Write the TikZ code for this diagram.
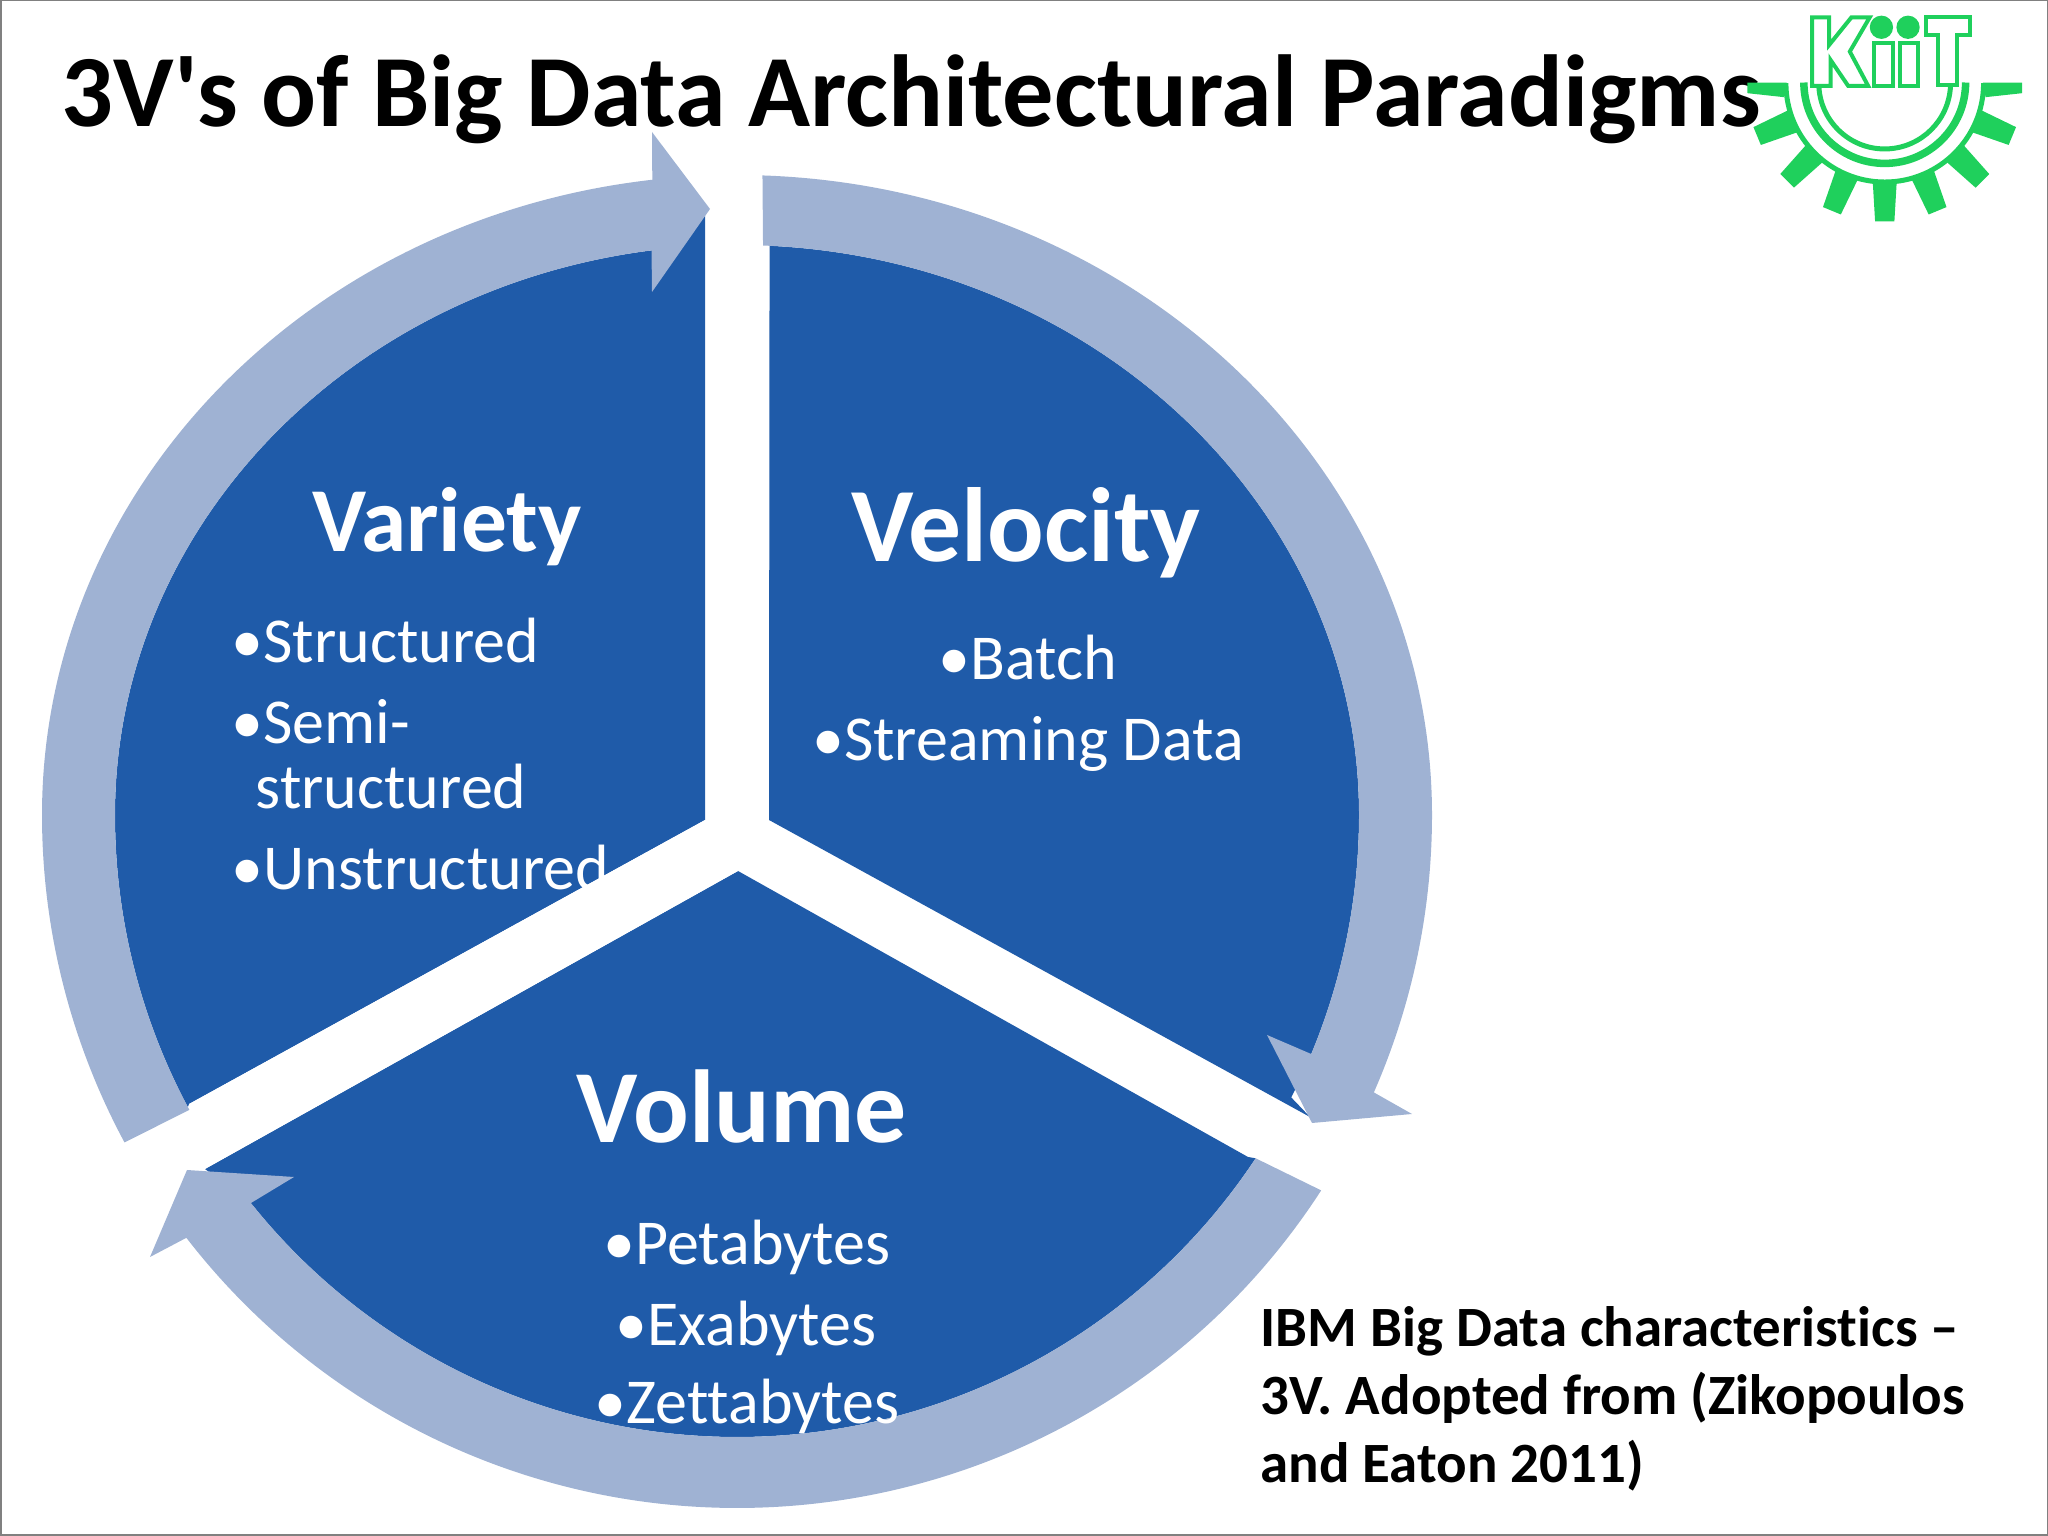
\documentclass[tikz,border=0pt]{standalone}
\usepackage{fontspec}
\setmainfont[Ligatures=NoCommon]{Carlito}
\definecolor{sectorblue}{HTML}{1F5BA9}
\definecolor{bandblue}{HTML}{9FB2D3}
\definecolor{kiitgreen}{HTML}{1FD05C}
\tikzset{
sector/.style={fill=sectorblue},
band/.style={fill=bandblue},
head/.style={text=white, font=\bfseries\fontsize{#1}{#1}\selectfont},
item/.style={text=white, font=\fontsize{18.2}{20}\selectfont, inner sep=0},
logoline/.style={draw=kiitgreen, line width=.04cm, line join=miter}
}
\begin{document}
\begin{tikzpicture}[x=.01cm,y=.01cm]
   \useasboundingbox (0,0) rectangle (2048,1536);
   \coordinate (c) at (737,721);
   % blue sectors
   \coordinate (r1) at (1310,419); \coordinate (r2) at (769,716);
   \fill[sector,shift={(c)}] (87:622 and 570) arc[start angle=87,end angle=0,x radius=622,y radius=570] arc[start angle=0,end angle=-27,radius=622] -- (r1) -- (r2) -- cycle;
   \coordinate (l1) at (189,432); \coordinate (l2) at (705,716); \coordinate (l3) at (705,1320);
   \fill[sector,shift={(c)}] (97:622 and 570) arc[start angle=97,end angle=180,x radius=622,y radius=570] arc[start angle=180,end angle=208,radius=622] -- (l1) -- (l2) -- (l3) -- cycle;
   \coordinate (m1) at (1248,379); \coordinate (m2) at (738,665); \coordinate (m3) at (205,367);
   \fill[sector,shift={(c)}] (-141:622) arc[start angle=-141,end angle=-33.5,radius=622] -- (m1) -- (m2) -- (m3) -- cycle;
   % texts of the sectors
   \node[head=26] (variety) at (447,1009) {Variety};
   \node[item,anchor=west] (structured) at (231,895) {•Structured};
   \node[item,anchor=west] (semi) at (231,814) {•Semi-};
   \node[item,anchor=west] (semistr) at (255,749) {structured};
   \node[item,anchor=west] (unstructured) at (231,668) {•Unstructured};
   \node[head=30] (velocity) at (1026,1003) {Velocity};
   \node[item] (batch) at (1028,878) {•Batch};
   \node[item] (streaming) at (1028,792) {•Streaming Data};
   \node[head=29.5] (volume) at (742,430) {Volume};
   \node[item] (peta) at (747,289) {•Petabytes};
   \node[item] (exa) at (746,208) {•Exabytes};
   % gap cuts the last item
   \fill[white] (l2) -- (l1) -- (m3) -- (m2) -- cycle;
   % bands with arrows
   \coordinate (a1) at (1412,422); \coordinate (a2) at (1312,413); \coordinate (a3) at (1267,501);
   \fill[band,shift={(c)}] (87.9:695 and 640) arc[start angle=87.9,end angle=0,x radius=695,y radius=640] arc[start angle=0,end angle=-23.6,x radius=695,y radius=693] -- (a1) -- (a2) -- (a3) -- (-22.6:622) arc[start angle=-22.6,end angle=0,radius=622] arc[start angle=0,end angle=87.6,x radius=622,y radius=570] -- cycle;
   \coordinate (b1) at (150,279); \coordinate (b2) at (187,366); \coordinate (b3) at (294,359);
   \fill[band,shift={(c)}] (-32.8:695 and 693) arc[start angle=-32.8,end angle=-142.4,x radius=695,y radius=693] -- (b1) -- (b2) -- (b3) -- (-141.4:622) arc[start angle=-141.4,end angle=-33.5,radius=622] -- cycle;
   \coordinate (d1) at (652,1404); \coordinate (d2) at (710,1327); \coordinate (d3) at (652,1244);
   \fill[band,shift={(c)}] (208.2:695 and 693) arc[start angle=208.2,end angle=180,x radius=695,y radius=693] arc[start angle=180,end angle=97,x radius=695,y radius=640] -- (d1) -- (d2) -- (d3) -- (97.9:622 and 570) arc[start angle=97.9,end angle=180,x radius=622,y radius=570] arc[start angle=180,end angle=208.3,radius=622] -- cycle;
   % this one lies over the band
   \node[item] (zetta) at (747,130) {•Zettabytes};
   % title and caption
   \node[anchor=west,inner sep=0,font=\bfseries\fontsize{29.1}{30}\selectfont] (title) at (61,1437) {3V\textquotesingle s of Big Data Architectural Paradigms};
   \node[anchor=west,inner sep=0,align=left,font=\bfseries\fontsize{16.2}{19.3}\selectfont] (caption) at (1260,137) {IBM Big Data characteristics –\\3V. Adopted from (Zikopoulos\\and Eaton 2011)};
   % logo, coordinates as in a 3x crop
   \begin{scope}[shift={(1720,1536)},x=.0033333cm,y=-.0033333cm]
      \coordinate (g) at (495,250);
      \fill[kiitgreen] (82,248) -- (200,248) -- (192,292) -- (82,280) -- cycle;
      \fill[kiitgreen] (908,248) -- (790,248) -- (798,292) -- (908,280) -- cycle;
      \foreach \a in {-67.5,-45,-22.5,0,22.5,45,67.5}
         \fill[kiitgreen,shift={(g)},rotate=\a] (-36,296) -- (36,296) -- (29,415) -- (-29,415) -- cycle;
      \draw[kiitgreen,line width=.05cm] (198,250) arc[start angle=180,end angle=0,radius=297];
      \draw[kiitgreen,line width=.075cm] (252,248) arc[start angle=180,end angle=0,radius=243];
      \draw[kiitgreen,line width=.05cm] (297,260) arc[start angle=177,end angle=3,radius=198];
      \draw[logoline] (277,52) -- (328,52) -- (328,135) -- (395,52) -- (450,52) -- (390,155) -- (445,258) -- (385,258) -- (332,180) -- (332,258) -- (277,258) -- cycle;
      \fill[kiitgreen] (485,82) circle (35) (565,82) circle (35);
      \draw[logoline] (462,128) rectangle (520,258);
      \draw[logoline] (540,128) rectangle (596,258);
      \draw[logoline] (618,52) -- (750,52) -- (750,105) -- (712,105) -- (712,255) -- (655,255) -- (655,105) -- (618,105) -- cycle;
   \end{scope}
   % frame
   \draw[gray,line width=.03cm] (0,0) rectangle (2048,1536);
\end{tikzpicture}
\end{document}
